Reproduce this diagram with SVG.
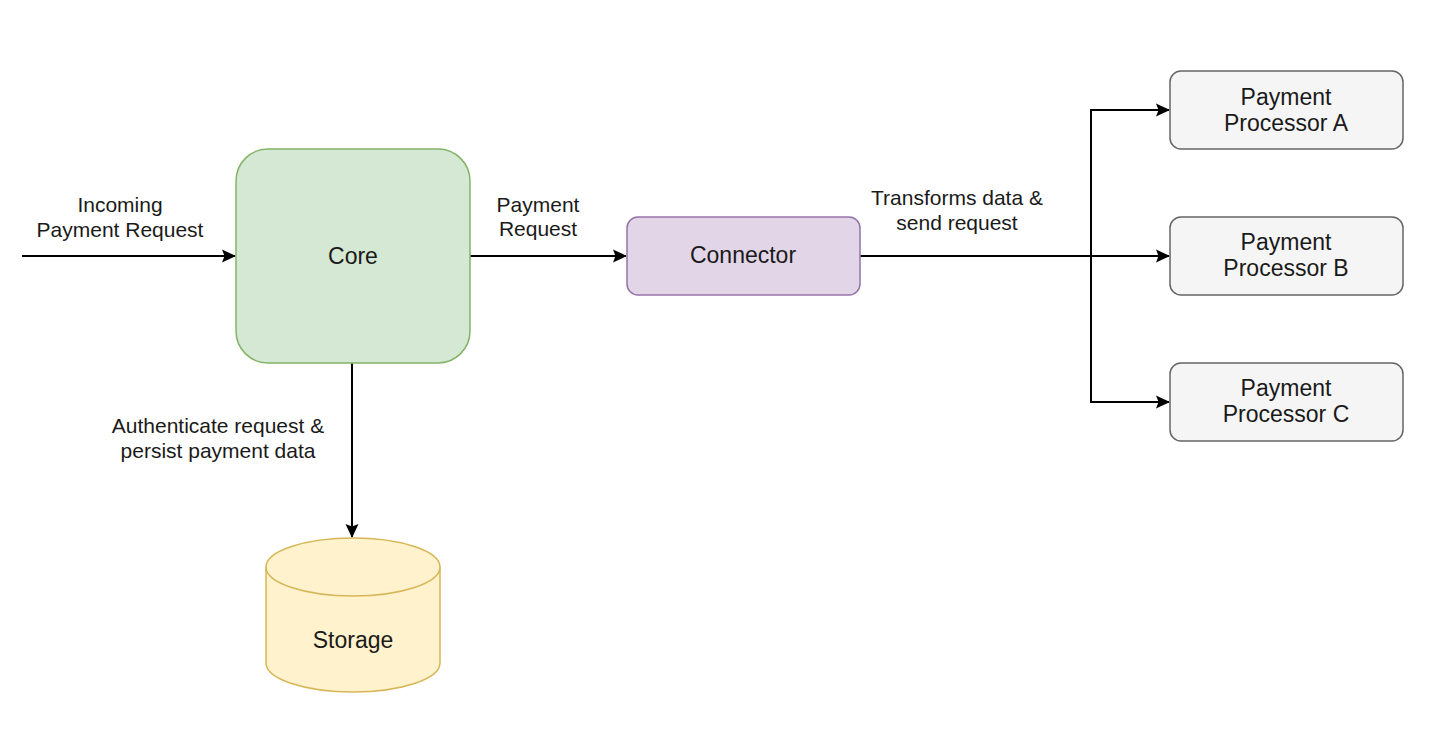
<svg xmlns="http://www.w3.org/2000/svg" width="1456" height="740" viewBox="0 0 1456 740">
<style>
text{font-family:"Liberation Sans",Arial,Helvetica,sans-serif;fill:#1a1a1a;text-anchor:middle}
.el{font-size:21px}
.nl{font-size:23px}
.edge{fill:none;stroke:#000;stroke-width:2}
</style>
<defs>
<marker id="arr" viewBox="0 0 14 14" refX="13" refY="7" markerWidth="14" markerHeight="14" markerUnits="userSpaceOnUse" orient="auto">
<path d="M0,0.5 L14,7 L0,13.5 L2.5,7 Z" fill="#000"/>
</marker>
</defs>
<rect width="1456" height="740" fill="#fff"/>
<g id="connectors">
<path class="edge" d="M22,256 H235" marker-end="url(#arr)"/>
<path class="edge" d="M470,256 H626" marker-end="url(#arr)"/>
<path class="edge" d="M352,363 V537" marker-end="url(#arr)"/>
<path class="edge" d="M860,256 H1169" marker-end="url(#arr)"/>
<path class="edge" d="M1091,256 V110 H1169" marker-end="url(#arr)"/>
<path class="edge" d="M1091,256 V402 H1169" marker-end="url(#arr)"/>
<text class="el" x="120" y="212">Incoming</text>
<text class="el" x="120" y="237">Payment Request</text>
<text class="el" x="538" y="212">Payment</text>
<text class="el" x="538" y="236">Request</text>
<text class="el" x="957" y="205">Transforms data &amp;</text>
<text class="el" x="957" y="230">send request</text>
<text class="el" x="218" y="433">Authenticate request &amp;</text>
<text class="el" x="218" y="458">persist payment data</text>
</g>
<g id="core">
<rect x="236" y="149" width="234" height="214" rx="32" ry="32" fill="#d5e8d4" stroke="#82b366" stroke-width="1.5"/>
<text class="nl" x="353" y="264">Core</text>
</g>
<g id="connector">
<rect x="627" y="217" width="233" height="78" rx="11" ry="11" fill="#e1d5e7" stroke="#9673a6" stroke-width="1.5"/>
<text class="nl" x="743" y="263">Connector</text>
</g>
<g id="processor-a">
<rect x="1170" y="71" width="233" height="78" rx="11" ry="11" fill="#f5f5f5" stroke="#666666" stroke-width="1.5"/>
<text class="nl" x="1286" y="105">Payment</text>
<text class="nl" x="1286" y="131">Processor A</text>
</g>
<g id="processor-b">
<rect x="1170" y="217" width="233" height="78" rx="11" ry="11" fill="#f5f5f5" stroke="#666666" stroke-width="1.5"/>
<text class="nl" x="1286" y="250">Payment</text>
<text class="nl" x="1286" y="276">Processor B</text>
</g>
<g id="processor-c">
<rect x="1170" y="363" width="233" height="78" rx="11" ry="11" fill="#f5f5f5" stroke="#666666" stroke-width="1.5"/>
<text class="nl" x="1286" y="396">Payment</text>
<text class="nl" x="1286" y="422">Processor C</text>
</g>
<g id="storage">
<path d="M266,567 A87,29 0 0 1 440,567 V663 A87,29 0 0 1 266,663 Z" fill="#fff2cc" stroke="#d6b656" stroke-width="1.5"/>
<path d="M266,567 A87,29 0 0 0 440,567" fill="none" stroke="#d6b656" stroke-width="1.5"/>
<text class="nl" x="353" y="648">Storage</text>
</g>
</svg>
